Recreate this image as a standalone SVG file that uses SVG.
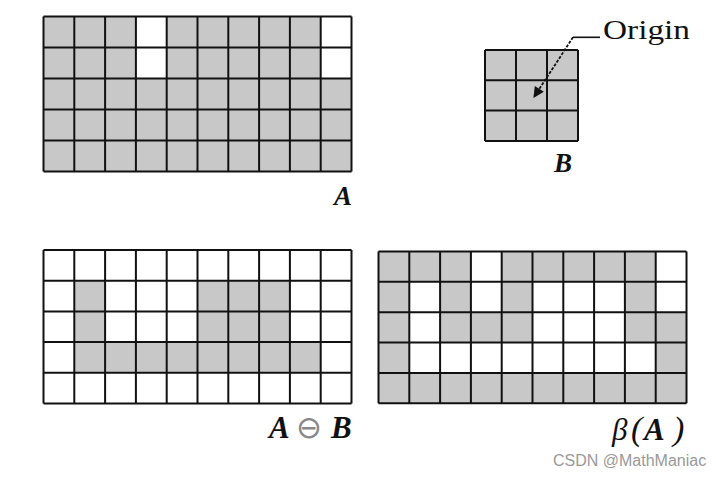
<svg xmlns="http://www.w3.org/2000/svg" width="716" height="477" viewBox="0 0 716 477">
<defs>
<style>
.g{fill:#c8c8c8}
.w{fill:#ffffff}
.ln{fill:none;stroke:#111;stroke-width:2}
.lbl{font-family:"Liberation Serif","Times New Roman",serif;font-style:italic;font-weight:bold;font-size:27px;fill:#111}
.big{font-size:31px}
.reg{font-weight:normal}
.wm{font-family:"Liberation Sans",Arial,sans-serif;font-size:16px;fill:#999}
</style>
<marker id="ah" viewBox="0 0 10 10" refX="9" refY="5" markerWidth="8" markerHeight="6" orient="auto" markerUnits="strokeWidth">
<path d="M0,0 L10,5 L0,10 Z" fill="#111"/>
</marker>
</defs>
<rect width="716" height="477" fill="#fff"/>

<g id="gridA">
<rect class="g" x="43.5" y="16.5" width="308" height="155"/>
<rect class="w" x="135.9" y="16.5" width="30.8" height="62"/>
<rect class="w" x="320.7" y="16.5" width="30.8" height="62"/>
<path class="ln" d="M43.5,16.5V171.5M74.3,16.5V171.5M105.1,16.5V171.5M135.9,16.5V171.5M166.7,16.5V171.5M197.5,16.5V171.5M228.3,16.5V171.5M259.1,16.5V171.5M289.9,16.5V171.5M320.7,16.5V171.5M351.5,16.5V171.5M43.5,16.5H351.5M43.5,47.5H351.5M43.5,78.5H351.5M43.5,109.5H351.5M43.5,140.5H351.5M43.5,171.5H351.5"/>
<text class="lbl" x="334" y="205">A</text>
</g>

<g id="gridB">
<rect class="g" x="485" y="50" width="93" height="91"/>
<path class="ln" d="M485,50V141M516,50V141M547,50V141M578,50V141M485,50H578M485,80.3H578M485,110.6H578M485,141H578"/>
<text class="lbl" x="554" y="172">B</text>
</g>

<g id="origin-label">
<text x="603" y="39" font-family="'Liberation Serif','Times New Roman',serif" font-size="27" fill="#111" textLength="87" lengthAdjust="spacingAndGlyphs">Origin</text>
</g>

<g id="gridErosion">
<rect class="w" x="43.5" y="250" width="308" height="153.5"/>
<rect class="g" x="74.3" y="280.7" width="30.8" height="61.4"/>
<rect class="g" x="197.5" y="280.7" width="92.4" height="61.4"/>
<rect class="g" x="74.3" y="342.1" width="246.4" height="30.7"/>
<path class="ln" d="M43.5,250V403.5M74.3,250V403.5M105.1,250V403.5M135.9,250V403.5M166.7,250V403.5M197.5,250V403.5M228.3,250V403.5M259.1,250V403.5M289.9,250V403.5M320.7,250V403.5M351.5,250V403.5M43.5,250H351.5M43.5,280.7H351.5M43.5,311.4H351.5M43.5,342.1H351.5M43.5,372.8H351.5M43.5,403.5H351.5"/>
<text class="lbl big" y="438"><tspan x="269">A</tspan><tspan x="296" font-family="'DejaVu Sans',sans-serif" font-style="normal" font-weight="normal" font-size="31" fill="#888">⊖</tspan><tspan x="331">B</tspan></text>
</g>

<g id="gridBoundary">
<rect class="g" x="378.5" y="251.5" width="308" height="151.75"/>
<rect class="w" x="470.9" y="251.5" width="30.8" height="60.7"/>
<rect class="w" x="655.7" y="251.5" width="30.8" height="60.7"/>
<rect class="w" x="409.3" y="281.85" width="30.8" height="91.05"/>
<rect class="w" x="532.5" y="281.85" width="92.4" height="91.05"/>
<rect class="w" x="409.3" y="342.55" width="246.4" height="30.35"/>
<path class="ln" d="M378.5,251.5V403.25M409.3,251.5V403.25M440.1,251.5V403.25M470.9,251.5V403.25M501.7,251.5V403.25M532.5,251.5V403.25M563.3,251.5V403.25M594.1,251.5V403.25M624.9,251.5V403.25M655.7,251.5V403.25M686.5,251.5V403.25M378.5,251.5H686.5M378.5,281.85H686.5M378.5,312.2H686.5M378.5,342.55H686.5M378.5,372.9H686.5M378.5,403.25H686.5"/>
<text class="lbl big" y="440"><tspan class="reg" x="612">β</tspan><tspan class="reg" x="631" font-size="34">(</tspan><tspan x="644">A</tspan><tspan class="reg" x="673" font-size="34">)</tspan></text>
</g>

<g id="connectors">
<path d="M600,37.3H573" fill="none" stroke="#111" stroke-width="1.6"/>
<path d="M573,37.3L534,97" fill="none" stroke="#111" stroke-width="1.8" stroke-dasharray="3 1.5" marker-end="url(#ah)"/>
</g>

<text class="wm" x="553" y="466">CSDN @MathManiac</text>
</svg>
